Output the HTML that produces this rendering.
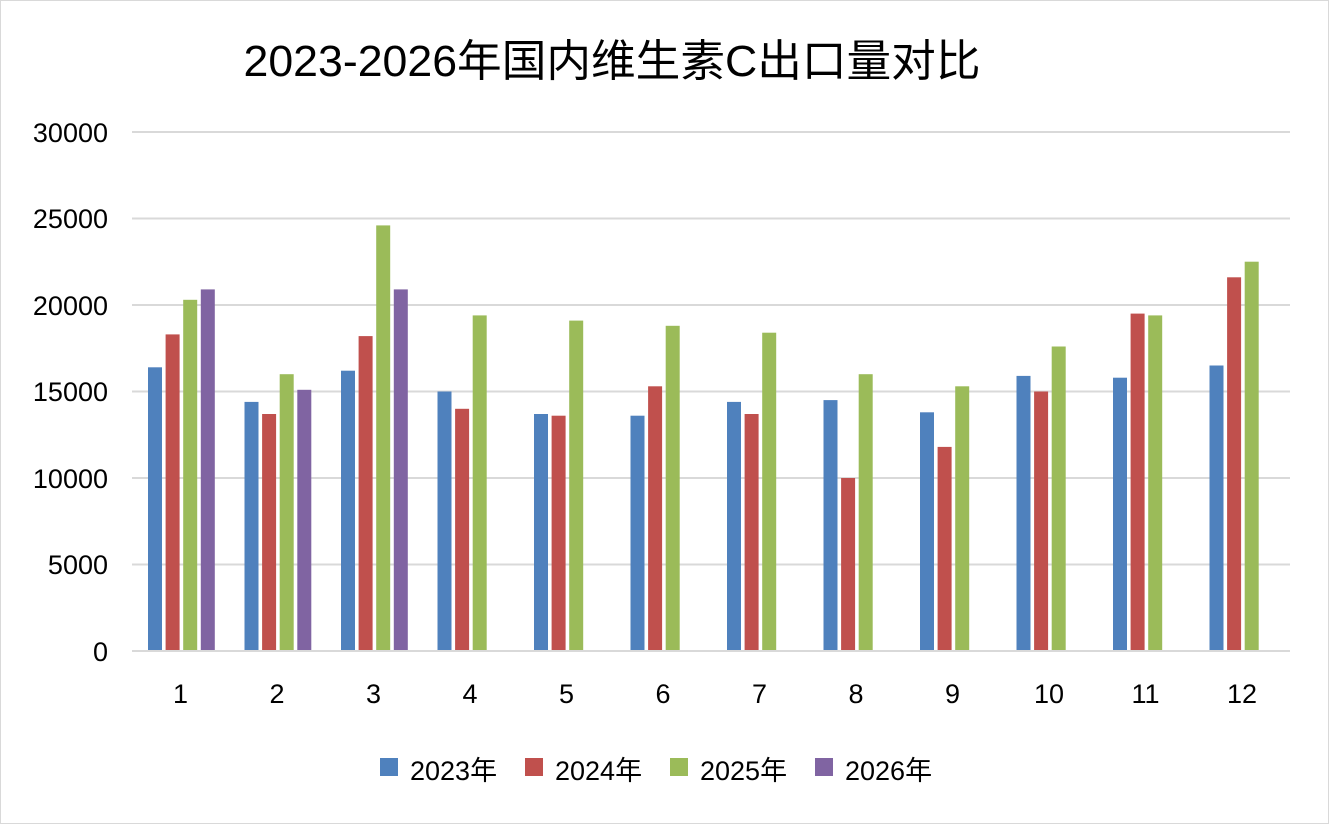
<!DOCTYPE html>
<html><head><meta charset="utf-8"><style>
html,body{margin:0;padding:0;background:#fff}
svg{display:block}
text{font-family:"Liberation Sans","Noto Sans CJK SC",sans-serif;fill:#000}
.b{fill:#4F81BD}.r{fill:#C0504D}.g{fill:#9BBB59}.p{fill:#8064A2}
</style></head><body>
<svg width="1330" height="825" xmlns="http://www.w3.org/2000/svg">
<rect x="0.5" y="0.5" width="1328" height="823" fill="#fff" stroke="#d9d9d9"/>
<text x="612" y="76" font-size="44" text-anchor="middle" textLength="737" lengthAdjust="spacingAndGlyphs">2023-2026年国内维生素C出口量对比</text>
<g stroke="#d9d9d9" stroke-width="2">
<line x1="132" y1="132" x2="1290" y2="132"/>
<line x1="132" y1="218.5" x2="1290" y2="218.5"/>
<line x1="132" y1="305" x2="1290" y2="305"/>
<line x1="132" y1="391.5" x2="1290" y2="391.5"/>
<line x1="132" y1="478" x2="1290" y2="478"/>
<line x1="132" y1="564.5" x2="1290" y2="564.5"/>
</g>
<g font-size="27" text-anchor="end">
<text x="108" y="142">30000</text>
<text x="108" y="228">25000</text>
<text x="108" y="315">20000</text>
<text x="108" y="401">15000</text>
<text x="108" y="488">10000</text>
<text x="108" y="574">5000</text>
<text x="108" y="661">0</text>
</g>
<g>
<rect class="b" x="148" y="367.3" width="14" height="283.7"/>
<rect class="r" x="165.6" y="334.4" width="14" height="316.6"/>
<rect class="g" x="183.2" y="299.8" width="14" height="351.2"/>
<rect class="p" x="200.8" y="289.4" width="14" height="361.6"/>

<rect class="b" x="244.5" y="401.9" width="14" height="249.1"/>
<rect class="r" x="262.1" y="414" width="14" height="237"/>
<rect class="g" x="279.7" y="374.2" width="14" height="276.8"/>
<rect class="p" x="297.3" y="389.8" width="14" height="261.2"/>

<rect class="b" x="341" y="370.7" width="14" height="280.3"/>
<rect class="r" x="358.6" y="336.1" width="14" height="314.9"/>
<rect class="g" x="376.2" y="225.4" width="14" height="425.6"/>
<rect class="p" x="393.8" y="289.4" width="14" height="361.6"/>

<rect class="b" x="437.5" y="391.5" width="14" height="259.5"/>
<rect class="r" x="455.1" y="408.8" width="14" height="242.2"/>
<rect class="g" x="472.7" y="315.4" width="14" height="335.6"/>

<rect class="b" x="534" y="414" width="14" height="237"/>
<rect class="r" x="551.6" y="415.7" width="14" height="235.3"/>
<rect class="g" x="569.2" y="320.6" width="14" height="330.4"/>

<rect class="b" x="630.5" y="415.7" width="14" height="235.3"/>
<rect class="r" x="648.1" y="386.3" width="14" height="264.7"/>
<rect class="g" x="665.7" y="325.8" width="14" height="325.2"/>

<rect class="b" x="727" y="401.9" width="14" height="249.1"/>
<rect class="r" x="744.6" y="414" width="14" height="237"/>
<rect class="g" x="762.2" y="332.7" width="14" height="318.3"/>

<rect class="b" x="823.5" y="400.1" width="14" height="250.9"/>
<rect class="r" x="841.1" y="478" width="14" height="173"/>
<rect class="g" x="858.7" y="374.2" width="14" height="276.8"/>

<rect class="b" x="920" y="412.3" width="14" height="238.7"/>
<rect class="r" x="937.6" y="446.9" width="14" height="204.1"/>
<rect class="g" x="955.2" y="386.3" width="14" height="264.7"/>

<rect class="b" x="1016.5" y="375.9" width="14" height="275.1"/>
<rect class="r" x="1034.1" y="391.5" width="14" height="259.5"/>
<rect class="g" x="1051.7" y="346.5" width="14" height="304.5"/>

<rect class="b" x="1113" y="377.7" width="14" height="273.3"/>
<rect class="r" x="1130.6" y="313.6" width="14" height="337.4"/>
<rect class="g" x="1148.2" y="315.4" width="14" height="335.6"/>

<rect class="b" x="1209.5" y="365.5" width="14" height="285.5"/>
<rect class="r" x="1227.1" y="277.3" width="14" height="373.7"/>
<rect class="g" x="1244.7" y="261.7" width="14" height="389.3"/>
</g>
<line x1="132" y1="651" x2="1290" y2="651" stroke="#d9d9d9" stroke-width="2"/>
<g font-size="27" text-anchor="middle">
<text x="180.5" y="703">1</text>
<text x="277" y="703">2</text>
<text x="373.5" y="703">3</text>
<text x="470" y="703">4</text>
<text x="566.5" y="703">5</text>
<text x="663" y="703">6</text>
<text x="759.5" y="703">7</text>
<text x="856" y="703">8</text>
<text x="952.5" y="703">9</text>
<text x="1049" y="703">10</text>
<text x="1145.5" y="703">11</text>
<text x="1242" y="703">12</text>
</g>
<g font-size="27">
<rect x="380" y="758" width="18" height="18" class="b"/><text x="410" y="780">2023年</text>
<rect x="525" y="758" width="18" height="18" class="r"/><text x="555" y="780">2024年</text>
<rect x="670" y="758" width="18" height="18" class="g"/><text x="700" y="780">2025年</text>
<rect x="815" y="758" width="18" height="18" class="p"/><text x="845" y="780">2026年</text>
</g>
</svg>
</body></html>
